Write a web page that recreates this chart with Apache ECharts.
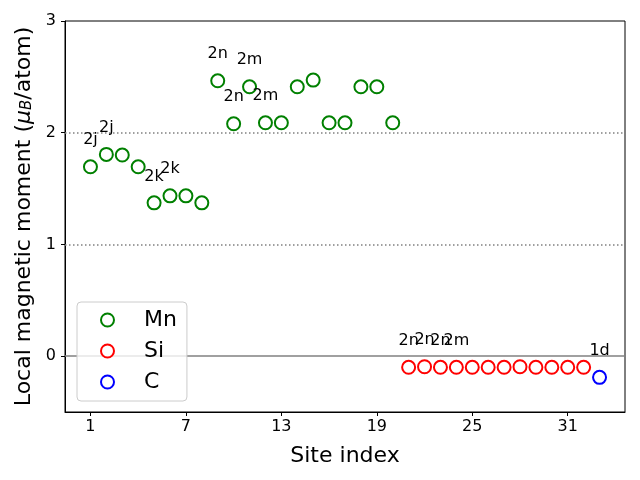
<!DOCTYPE html>
<html>
<head>
<meta charset="utf-8">
<script src="https://cdn.jsdelivr.net/npm/echarts@6/dist/echarts.min.js"></script>
<style>html,body{margin:0;padding:0;background:#fff;}#c{width:640px;height:480px;}</style>
</head>
<body>
<div id="c"></div>
<script>
const mnSites = [1,2,3,4,5,6,7,8,9,10,11,12,13,14,15,16,17,18,19,20];
const mnValues = [1.695,1.806,1.80,1.695,1.372,1.435,1.435,1.372,2.465,2.08,2.411,2.089,2.089,2.411,2.471,2.089,2.089,2.411,2.411,2.089];
const mnLabels = ['2j','2j','','','2k','2k','','','2n','2n','2m','2m','','','','','','','',''];
const siSites = [21,22,23,24,25,26,27,28,29,30,31,32];
const siValues = [-0.10,-0.095,-0.10,-0.10,-0.10,-0.10,-0.10,-0.095,-0.10,-0.10,-0.10,-0.10];
const siLabels = ['2n','2n','2n','2m','','','','','','','',''];
const cSites = [33];
const cValues = [-0.19];
const cLabels = ['1d'];
const xTicks = [1,7,13,19,25,31];
const yTicks = [0,1,2,3];

const FONT = 'DejaVu Sans';
function mk(sites, vals, labels){ return sites.map((s,i)=>[s, vals[i], labels[i]]); }
function ser(name, color, sites, vals, labels, extra){
  return Object.assign({
    name, type:'scatter', data: mk(sites, vals, labels),
    symbol:'emptyCircle', symbolSize:13,
    itemStyle:{color:color, borderColor:color, borderWidth:1.2, opacity:1},
    label:{show:true, position:'top', distance:11, formatter:p=>p.data[2],
      fontFamily:FONT, fontSize:16, color:'#000', opacity:1},
    emphasis:{disabled:true}
  }, extra||{});
}
const chart = echarts.init(document.getElementById('c'), null, {renderer:'canvas'});
chart.setOption({
  animation:false,
  backgroundColor:'#fff',
  grid:{left:65, right:15, top:21, bottom:68, show:true, borderColor:'#000', borderWidth:1, backgroundColor:'transparent'},
  legend:{
    orient:'vertical', left:77, top:302,
    data:['Mn','Si','C'],
    itemWidth:13, itemHeight:13, itemGap:9,
    padding:[7,10,8,23],
    borderColor:'#cccccc', borderWidth:1, borderRadius:4,
    backgroundColor:'rgba(255,255,255,0.8)',
    textStyle:{fontFamily:FONT, fontSize:22, color:'#000', lineHeight:22, padding:[0,0,0,25]}
  },
  xAxis:{
    type:'value', min:-0.6, max:34.6,
    name:'Site index', nameLocation:'middle', nameGap:33,
    nameTextStyle:{fontFamily:FONT, fontSize:22, color:'#000'},
    axisLine:{show:true, onZero:false, lineStyle:{color:'#000', width:1}},
    axisTick:{show:true, length:4, customValues:xTicks, lineStyle:{color:'#000', width:1}},
    axisLabel:{customValues:xTicks, fontFamily:FONT, fontSize:16, color:'#000', margin:7},
    splitLine:{show:false}
  },
  yAxis:{
    type:'value', min:-0.5, max:3,
    name:'{a|Local magnetic moment (}{b|μ}{c|B}{a|/atom)}', nameLocation:'middle', nameGap:30, nameRotate:90,
    nameTextStyle:{fontFamily:FONT, fontSize:22, color:'#000',
      rich:{
        a:{fontFamily:FONT, fontSize:22, color:'#000', lineHeight:26, verticalAlign:'bottom'},
        b:{fontFamily:FONT, fontSize:22, color:'#000', fontStyle:'italic', lineHeight:26, verticalAlign:'bottom'},
        c:{fontFamily:FONT, fontSize:15, color:'#000', fontStyle:'italic', lineHeight:26, verticalAlign:'bottom', padding:[6,0,0,0]}
      }},
    axisLine:{show:true, onZero:false, lineStyle:{color:'#000', width:1}},
    axisTick:{show:true, length:4, customValues:yTicks, lineStyle:{color:'#000', width:1}},
    axisLabel:{customValues:yTicks, fontFamily:FONT, fontSize:16, color:'#000', margin:9},
    splitLine:{show:false}
  },
  series:[
    ser('Mn','#008000', mnSites, mnValues, mnLabels, {
      markLine:{silent:true, symbol:'none', label:{show:false}, z:1,
        data:[
          {yAxis:0, lineStyle:{type:'solid', color:'#808080', width:1.5, opacity:1}},
          {yAxis:1, lineStyle:{type:[1.5,2.5], color:'#808080', width:1.5, opacity:1}},
          {yAxis:2, lineStyle:{type:[1.5,2.5], color:'#808080', width:1.5, opacity:1}}
        ]}
    }),
    ser('Si','#ff0000', siSites, siValues, siLabels),
    ser('C','#0000ff', cSites, cValues, cLabels)
  ]
});
</script>
</body>
</html>
